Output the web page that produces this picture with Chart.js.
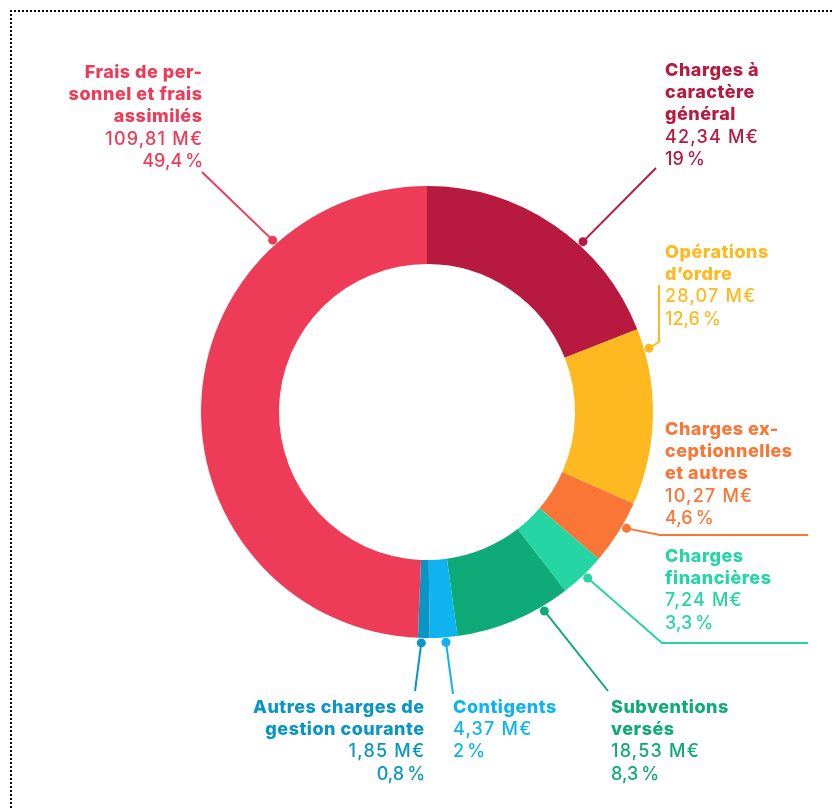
<!DOCTYPE html>
<html lang="fr">
<head>
<meta charset="utf-8">
<title>Dépenses de fonctionnement</title>
<script src="https://cdn.jsdelivr.net/npm/chart.js@4/dist/chart.umd.min.js"></script>
<style>
  html, body { margin: 0; padding: 0; background: #ffffff; }
  #cadre {
    position: relative;
    width: 832px;
    height: 810px;
    overflow: hidden;
  }
  #pointilles {
    position: absolute;
    left: 10px;
    top: 10px;
    width: 900px;
    height: 900px;
    border-top: 2px dotted #000000;
    border-left: 2px dotted #000000;
  }
  canvas { position: absolute; left: 0; top: 0; }
</style>
</head>
<body>
<div id="cadre">
  <div id="pointilles"></div>
  <canvas id="graphique" width="832" height="810"></canvas>
</div>

<script>
/* =========================================================
   DONNÉES
========================================================= */

const categories = [
  'Charges à caractère général',
  'Opérations d’ordre',
  'Charges exceptionnelles et autres',
  'Charges financières',
  'Subventions versés',
  'Contigents',
  'Autres charges de gestion courante',
  'Frais de personnel et frais assimilés'
];

// montants en millions d'euros
const montants = [42.34, 28.07, 10.27, 7.24, 18.53, 4.37, 1.85, 109.81];

// parts en %
const parts = [19, 12.6, 4.6, 3.3, 8.3, 2, 0.8, 49.4];

// titres coupés comme sur l'original
const titres = [
  ['Charges à', 'caractère', 'général'],
  ['Opérations', 'd’ordre'],
  ['Charges ex-', 'ceptionnelles', 'et autres'],
  ['Charges', 'financières'],
  ['Subventions', 'versés'],
  ['Contigents'],
  ['Autres charges de', 'gestion courante'],
  ['Frais de per-', 'sonnel et frais', 'assimilés']
];

const couleurs = [
  '#b8193e',
  '#fdb91f',
  '#f97636',
  '#25d6a4',
  '#0eaa77',
  '#0fb3ef',
  '#0a96c4',
  '#ee3b57'
];


/* =========================================================
   DISPOSITION DES ÉTIQUETTES
========================================================= */

// frac : position du point dans la part ; trait : tracé du repère ; x/y : texte
const disposition = [
  { frac: 0.62, trait: [[656, 168]],             align: 'left',  x: 665, y: 76 },
  { frac: 0.12, trait: [[659, 342], [659, 285]], align: 'left',  x: 665, y: 258 },
  { frac: 0.38, trait: [[660, 535], [808, 535]], align: 'left',  x: 665, y: 435 },
  { frac: 0.46, trait: [[662, 643], [808, 643]], align: 'left',  x: 665, y: 562 },
  { frac: 0.24, trait: [[608, 691]],             align: 'left',  x: 611, y: 713 },
  { frac: 0.43, trait: [[453, 694]],             align: 'left',  x: 453, y: 713 },
  { frac: 0.70, trait: [[415, 691]],             align: 'right', x: 424, y: 713 },
  { frac: 0.764, trait: [[202, 172]],            align: 'right', x: 202, y: 78 }
];

const interligne = 22.2;
const policeTitre = '800 18px Inter, "Noto Sans", sans-serif';
const policeValeur = '500 18px Inter, "Noto Sans", sans-serif';
const espaceTitre = 0.5;
const espaceValeur = 1.2;

function formatMontant(v) {
  return v.toFixed(2).replace('.', ',') + ' M€';
}

function formatPart(v) {
  return String(v).replace('.', ',') + '\u202F%';
}

// texte avec espacement des lettres (sans espace après la dernière)
function ecrire(ctx, texte, x, y, align, espace) {
  ctx.letterSpacing = espace + 'px';
  const ajust = align === 'right' ? espace : 0;
  ctx.fillText(texte, x + ajust, y);
}


/* =========================================================
   PLUGIN : REPÈRES ET TEXTES
========================================================= */

const etiquettes = {
  id: 'etiquettes',
  afterDatasetsDraw(chart) {
    const ctx = chart.ctx;
    const arcs = chart.getDatasetMeta(0).data;

    arcs.forEach((arc, i) => {
      const d = disposition[i];
      const couleur = couleurs[i];
      const { x, y, startAngle, endAngle, outerRadius } =
        arc.getProps(['x', 'y', 'startAngle', 'endAngle', 'outerRadius'], true);

      const angle = startAngle + (endAngle - startAngle) * d.frac;
      const px = x + Math.cos(angle) * (outerRadius + 5);
      const py = y + Math.sin(angle) * (outerRadius + 5);

      ctx.save();

      // trait
      ctx.strokeStyle = couleur;
      ctx.lineWidth = 2;
      ctx.lineJoin = 'round';
      ctx.beginPath();
      ctx.moveTo(px, py);
      d.trait.forEach(([tx, ty]) => ctx.lineTo(tx, ty));
      ctx.stroke();

      // point
      ctx.fillStyle = couleur;
      ctx.beginPath();
      ctx.arc(px, py, 4.5, 0, Math.PI * 2);
      ctx.fill();

      // texte
      ctx.textAlign = d.align;
      ctx.textBaseline = 'alphabetic';
      let ligne = 0;

      ctx.font = policeTitre;
      titres[i].forEach(t => {
        ecrire(ctx, t, d.x, d.y + ligne * interligne, d.align, espaceTitre);
        ligne++;
      });

      ctx.font = policeValeur;
      ecrire(ctx, formatMontant(montants[i]), d.x, d.y + ligne * interligne, d.align, espaceValeur);
      ligne++;
      ecrire(ctx, formatPart(parts[i]), d.x, d.y + ligne * interligne, d.align, espaceValeur);

      ctx.restore();
    });
  }
};


/* =========================================================
   GRAPHIQUE
========================================================= */

new Chart(document.getElementById('graphique'), {
  type: 'doughnut',
  data: {
    labels: categories,
    datasets: [{
      data: montants,
      backgroundColor: couleurs,
      borderWidth: 0
    }]
  },
  options: {
    responsive: false,
    animation: false,
    cutout: '65.5%',
    layout: {
      padding: { left: 201, top: 186, right: 179, bottom: 172 }
    },
    plugins: {
      legend: { display: false },
      tooltip: { enabled: false }
    }
  },
  plugins: [etiquettes]
});
</script>
</body>
</html>
